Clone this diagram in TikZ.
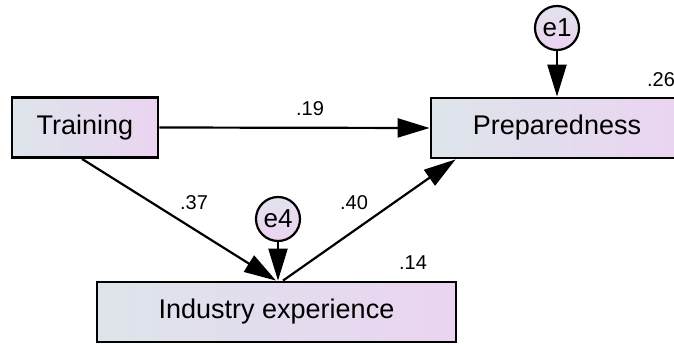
\documentclass[tikz,border=0pt]{standalone}
\usepackage{fontspec}
\setmainfont{Liberation Sans}
\usetikzlibrary{arrows.meta}
\definecolor{boxleft}{HTML}{DDE5EA}
\definecolor{boxright}{HTML}{EBD4F1}
\definecolor{errtop}{HTML}{E3E3EE}
\definecolor{errbot}{HTML}{EBD2EF}
\begin{document}
\begin{tikzpicture}[x=1pt,y=-1pt,
  varbox/.style={draw=black, line width=2.8pt, rectangle, left color=boxleft, right color=boxright,
    minimum height=60pt, inner sep=0pt, font=\fontsize{27}{32}\selectfont},
  errnode/.style={draw=black, line width=2.2pt, circle, top color=errtop, bottom color=errbot,
    minimum size=44pt, inner sep=0pt, font=\fontsize{26}{30}\selectfont},
  path/.style={draw=black, line width=2.2pt, -{Triangle[length=32pt,width=19pt]}},
  coef/.style={font=\fontsize{20}{24}\selectfont, inner sep=0pt}]
\useasboundingbox (0,0) rectangle (674,345);
% observed variables
\node[varbox, minimum width=146pt] (train) at (85,127.5) {Training};
\node[varbox, minimum width=252pt] (prep) at (557,128) {Preparedness};
\node[varbox, minimum width=359pt] (ind) at (276.5,312) {Industry experience};
% error terms
\node[errnode] (e1) at (557,28) {e1};
\node[errnode] (e4) at (278,219) {e4};
% regression paths
\draw[path] (train.east) -- (prep.west);
\draw[path] ([xshift=-3pt]train.south) -- ([xshift=-0.5pt]ind.north);
\draw[path] ([xshift=6.5pt]ind.north) -- ([xshift=26pt]prep.south west);
\draw[path] (e4.south) -- (e4.south |- ind.north);
\draw[path] (e1.south) -- (e1.south |- prep.north);
% coefficients
\node[coef] (c19) at (310,109) {.19};
\node[coef] (c37) at (194,203) {.37};
\node[coef] (c40) at (354,203) {.40};
\node[coef] (r14) at (413,263) {.14};
\node[coef] (r26) at (661,80) {.26};
\end{tikzpicture}
\end{document}
